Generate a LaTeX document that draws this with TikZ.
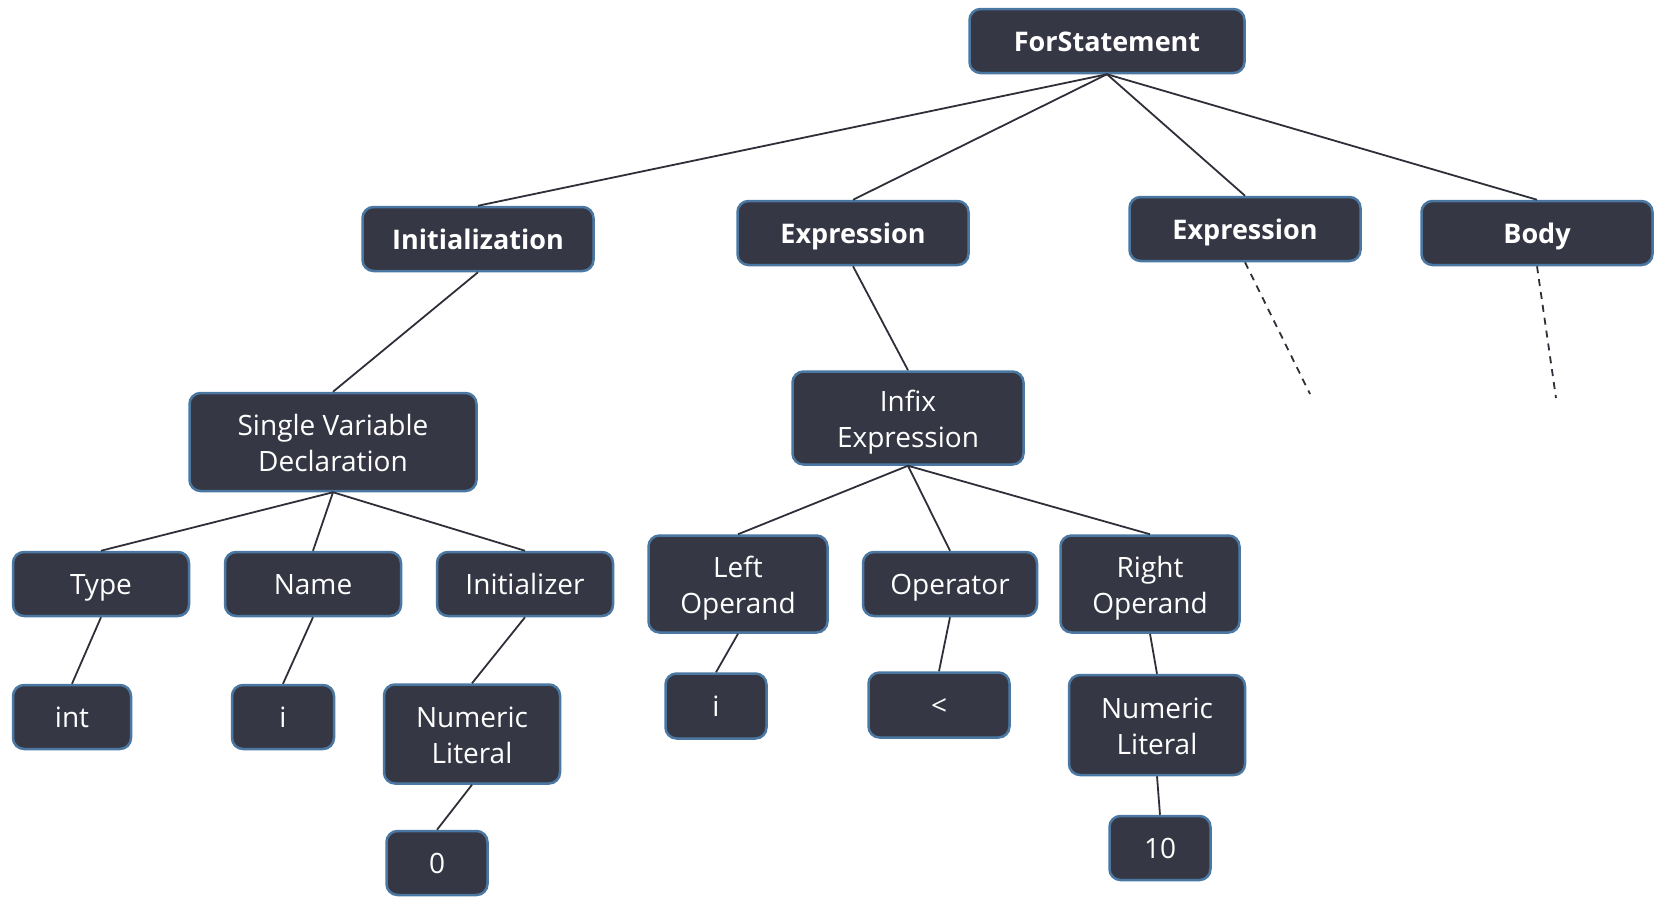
\documentclass[tikz,border=0pt]{standalone}
\usepackage{fontspec}
\setmainfont{Open Sans}
\definecolor{boxfill}{HTML}{363744}
\definecolor{boxline}{HTML}{4A78A2}
\definecolor{edge}{HTML}{2E2F38}
\begin{document}
\begin{tikzpicture}[x=1pt,y=-1pt,
  tnode/.style={draw=boxline, line width=2.5pt, fill=boxfill, rounded corners=11pt,
    text=white, align=center, inner sep=0pt, text height=20pt, text depth=0pt,
    font=\fontsize{28}{36}\selectfont},
  twoline/.style={text height=59pt},
  hnode/.style={tnode, font=\fontsize{27}{36}\selectfont\bfseries},
  link/.style={draw=edge, line width=1.8pt},
  open/.style={link, dashed, dash pattern=on 7pt off 6pt}]
\useasboundingbox (0,0) rectangle (1657,897);
% top level
\node[hnode, minimum width=275, minimum height=64] (for) at (1107,41) {ForStatement};
\node[hnode, minimum width=231, minimum height=64] (init) at (478,239) {Initialization};
\node[hnode, minimum width=231, minimum height=64] (cond) at (853,233) {Expression};
\node[hnode, minimum width=231, minimum height=64] (upd) at (1245,229) {Expression};
\node[hnode, minimum width=231, minimum height=64] (body) at (1537,233) {Body};
% declaration subtree
\node[tnode, twoline, minimum width=287, minimum height=98] (decl) at (333,442) {Single Variable\\Declaration};
\node[tnode, minimum width=176, minimum height=64] (type) at (101,584) {Type};
\node[tnode, minimum width=176, minimum height=64] (name) at (313,584) {Name};
\node[tnode, minimum width=176, minimum height=64] (initr) at (525,584) {Initializer};
\node[tnode, minimum width=118, minimum height=64] (int) at (72,717) {int};
\node[tnode, minimum width=102, minimum height=64] (iname) at (283,717) {i};
\node[tnode, twoline, minimum width=176, minimum height=99] (lit0) at (472,734) {Numeric\\Literal};
\node[tnode, minimum width=101, minimum height=64] (zero) at (437,863) {0};
% condition subtree
\node[tnode, twoline, minimum width=231, minimum height=93] (infix) at (908,418) {Infix\\Expression};
\node[tnode, twoline, minimum width=179, minimum height=97] (lop) at (738,584) {Left\\Operand};
\node[tnode, minimum width=174, minimum height=64] (op) at (950,584) {Operator};
\node[tnode, twoline, minimum width=179, minimum height=97] (rop) at (1150,584) {Right\\Operand};
\node[tnode, minimum width=101, minimum height=65] (ivar) at (716,706) {i};
\node[tnode, minimum width=141, minimum height=65] (lt) at (939,705) {<};
\node[tnode, twoline, minimum width=176, minimum height=100] (lit10) at (1157,725) {Numeric\\Literal};
\node[tnode, minimum width=101, minimum height=64] (ten) at (1160,848) {10};
% loose ends of unexpanded branches
\coordinate (updend) at (1310,394);
\coordinate (bodyend) at (1556,398);
% connectors
\draw[link] (for.south) -- (init.north);
\draw[link] (for.south) -- (cond.north);
\draw[link] (for.south) -- (upd.north);
\draw[link] (for.south) -- (body.north);
\draw[link] (init.south) -- (decl.north);
\draw[link] (decl.south) -- (type.north);
\draw[link] (decl.south) -- (name.north);
\draw[link] (decl.south) -- (initr.north);
\draw[link] (type.south) -- (int.north);
\draw[link] (name.south) -- (iname.north);
\draw[link] (initr.south) -- (lit0.north);
\draw[link] (lit0.south) -- (zero.north);
\draw[link] (cond.south) -- (infix.north);
\draw[link] (infix.south) -- (lop.north);
\draw[link] (infix.south) -- (op.north);
\draw[link] (infix.south) -- (rop.north);
\draw[link] (lop.south) -- (ivar.north);
\draw[link] (op.south) -- (lt.north);
\draw[link] (rop.south) -- (lit10.north);
\draw[link] (lit10.south) -- (ten.north);
\draw[open] (upd.south) -- (updend);
\draw[open] (body.south) -- (bodyend);
\end{tikzpicture}
\end{document}
